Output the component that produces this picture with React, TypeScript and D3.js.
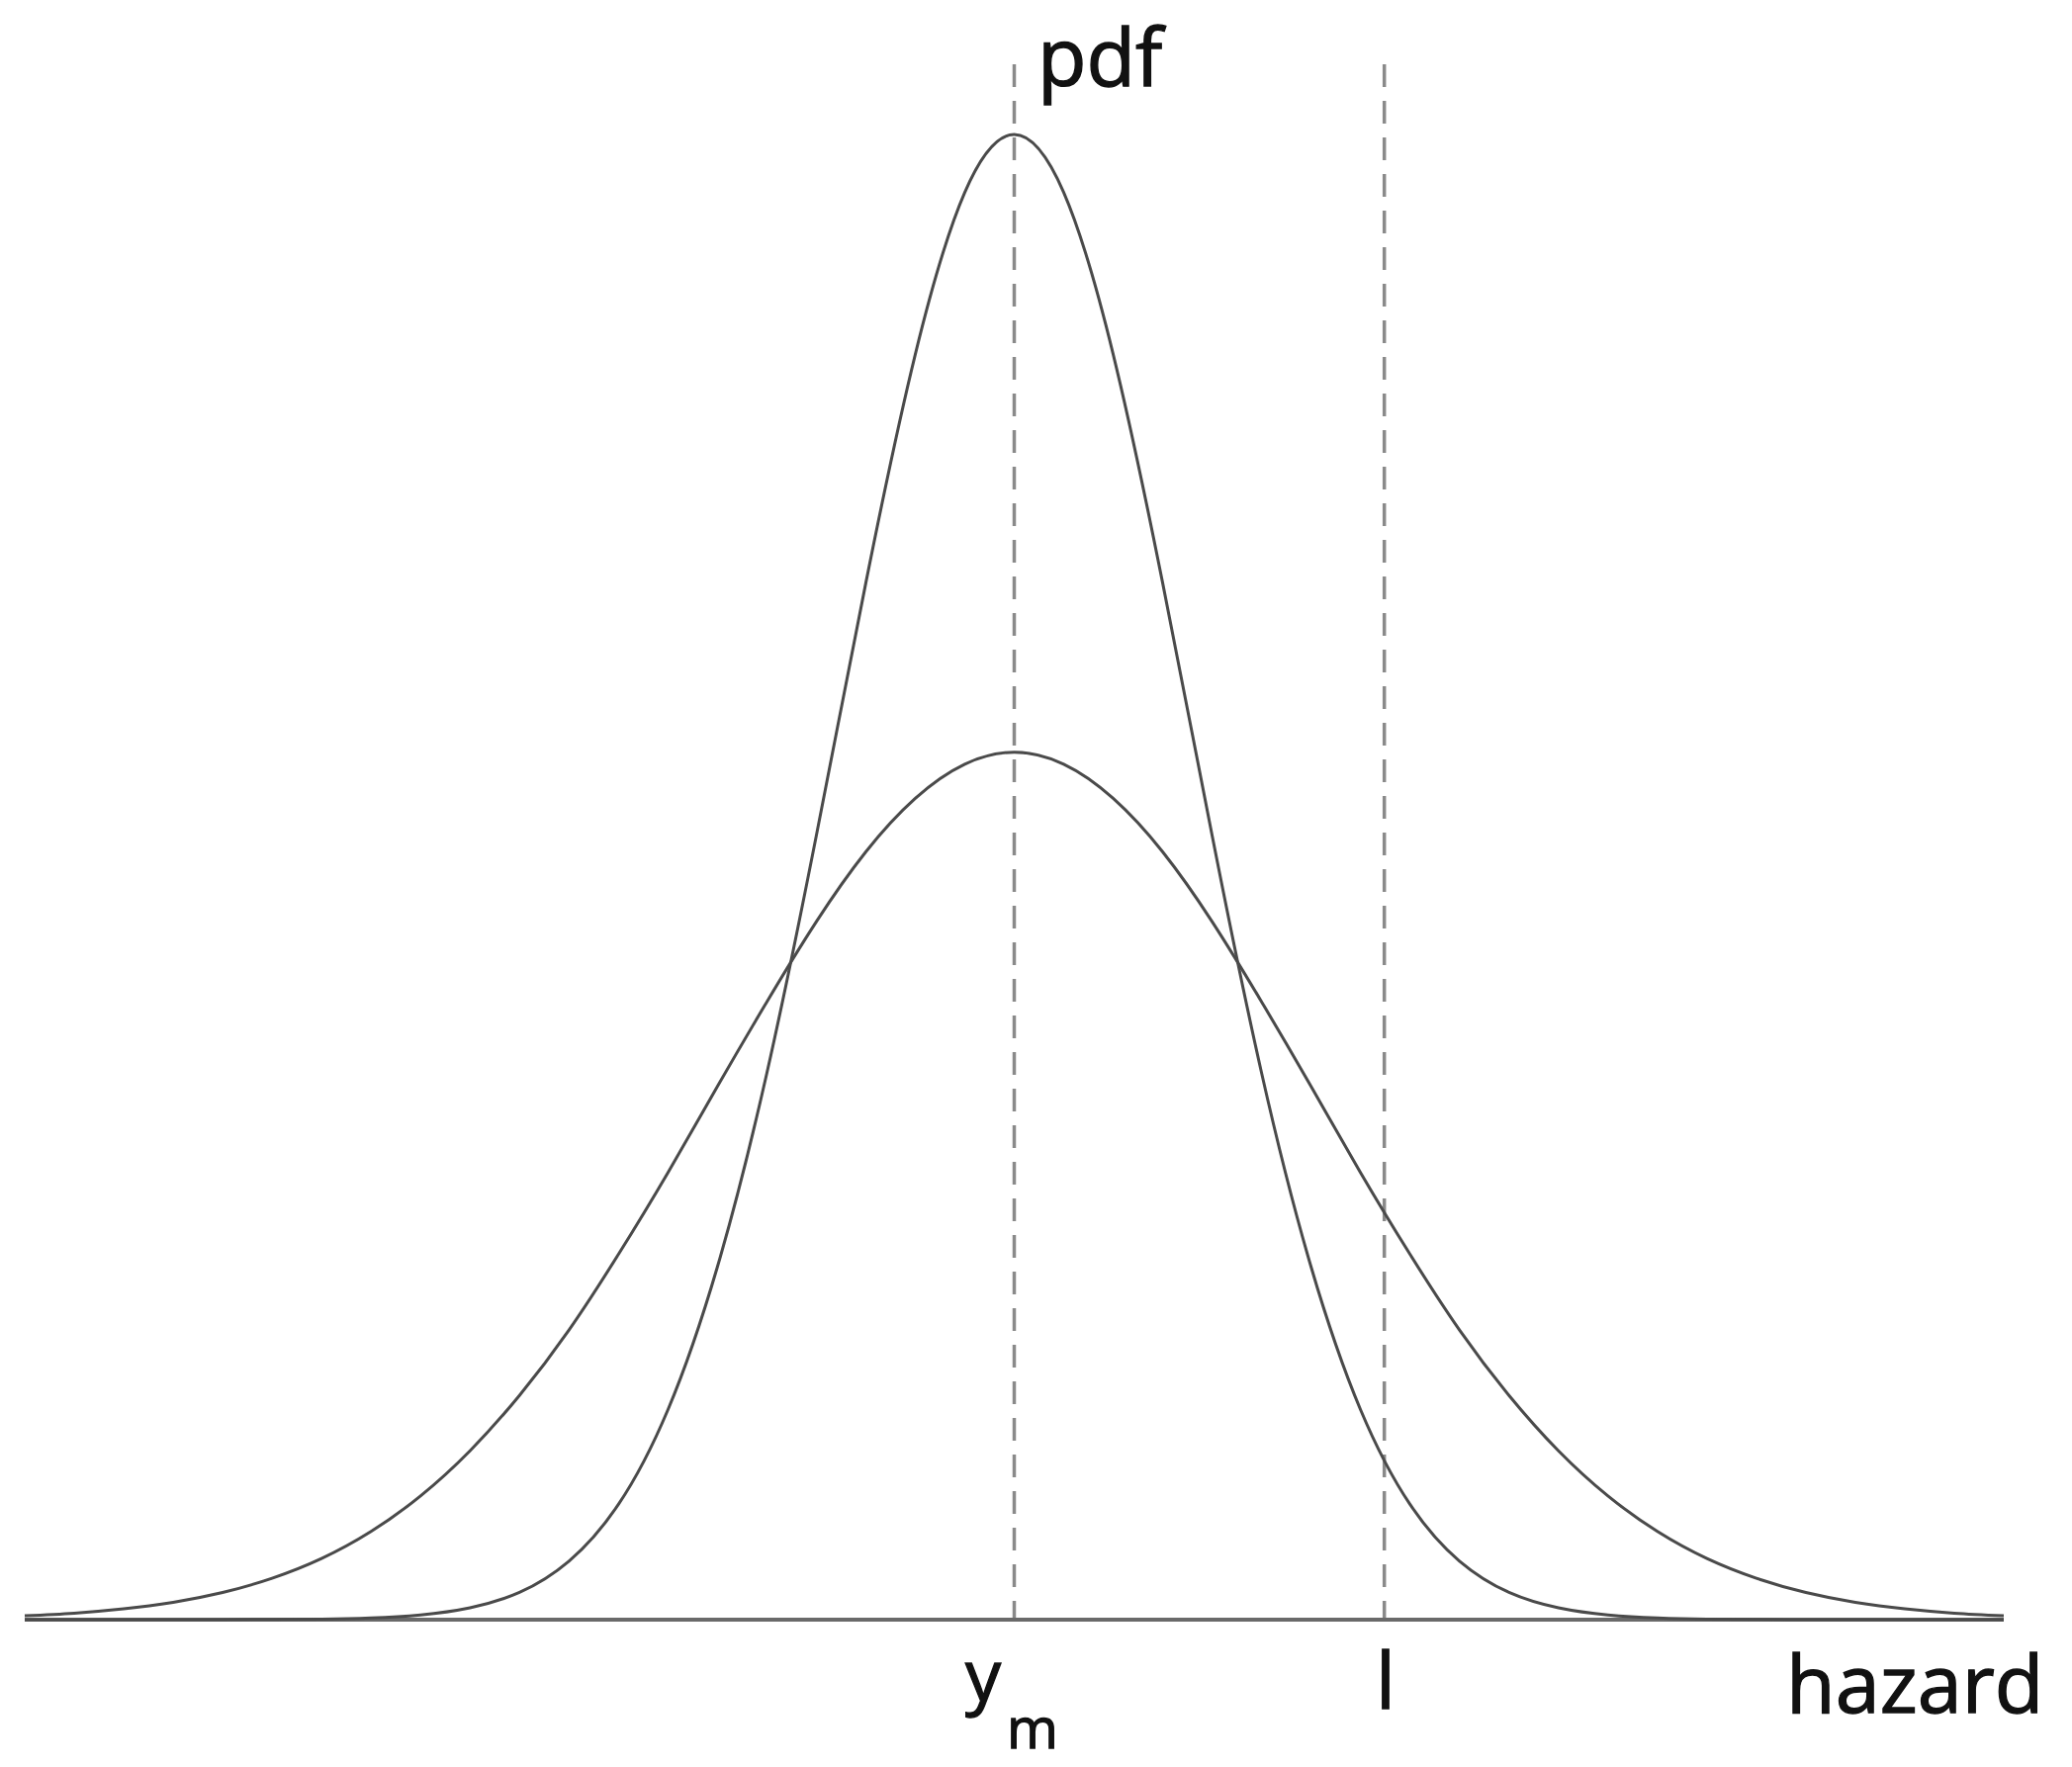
import React from "react";
import * as d3 from "d3";

// hazard axis positions (0..100), curve heights relative to narrow peak
const hazardX = [0, 2.5, 5, 7.5, 10, 12.5, 15, 17.5, 20, 22.5, 25, 27.5, 30, 32.5, 35, 37.5, 40, 42.5, 45, 47.5, 50,
  52.5, 55, 57.5, 60, 62.5, 65, 67.5, 70, 72.5, 75, 77.5, 80, 82.5, 85, 87.5, 90, 92.5, 95, 97.5, 100];
const narrowPdf = [0, 0, 0, 0.00001, 0.00004, 0.00013, 0.0004, 0.0012, 0.0032, 0.008, 0.0184, 0.0394, 0.0776, 0.1413, 0.2375, 0.368, 0.528, 0.698, 0.852, 0.961, 1,
  0.961, 0.852, 0.698, 0.528, 0.368, 0.2375, 0.1413, 0.0776, 0.0394, 0.0184, 0.008, 0.0032, 0.0012, 0.0004, 0.00013, 0.00004, 0.00001, 0, 0, 0];
const widePdf = [0.0026, 0.0044, 0.0073, 0.0117, 0.0183, 0.0279, 0.0412, 0.0594, 0.0833, 0.1137, 0.151, 0.195, 0.246, 0.301, 0.359, 0.416, 0.47, 0.517, 0.553, 0.576, 0.584,
  0.576, 0.553, 0.517, 0.47, 0.416, 0.359, 0.301, 0.246, 0.195, 0.151, 0.1137, 0.0833, 0.0594, 0.0412, 0.0279, 0.0183, 0.0117, 0.0073, 0.0044, 0.0026];
const markers = [50, 68.7]; // y_m, l

export default function App() {
  const W = 2095, H = 1787;
  const x = d3.scaleLinear().domain([0, 100]).range([25, 2026]);
  const y = d3.scaleLinear().domain([0, 1]).range([1638, 136]);
  const line = d3.line<number>()
    .x((_, i) => x(hazardX[i]))
    .y((v) => y(v))
    .curve(d3.curveNatural);
  const font = "'Open Sans', sans-serif";
  const tp = { fontFamily: font, fill: "#111", fontWeight: 400, stroke: "#111", strokeWidth: 1.3 };
  return (
    <svg width={W} height={H} style={{ position: "absolute", left: 0, top: 0, background: "#fff" }}>
      {markers.map((m, i) => (
        <line key={i} x1={x(m)} x2={x(m)} y1={65} y2={y(0)} stroke="#8a8a8a" strokeWidth={3.5} strokeDasharray="23 14" />
      ))}
      <line x1={x(0)} x2={x(100)} y1={y(0)} y2={y(0)} stroke="#6a6a6a" strokeWidth={4} />
      <path d={line(widePdf) || ""} fill="none" stroke="#4a4a4a" strokeWidth={3} />
      <path d={line(narrowPdf) || ""} fill="none" stroke="#4a4a4a" strokeWidth={3} />
      <text x={1049} y={87} fontSize={81} {...tp}>pdf</text>
      <text x={1806} y={1732} fontSize={81} {...tp}>hazard</text>
      <text x={1391} y={1728} fontSize={79} {...tp}>l</text>
      <text x={976} y={1720} fontSize={72} {...tp}>y</text>
      <text x={1018} y={1768} fontSize={56} {...tp}>m</text>
    </svg>
  );
}
